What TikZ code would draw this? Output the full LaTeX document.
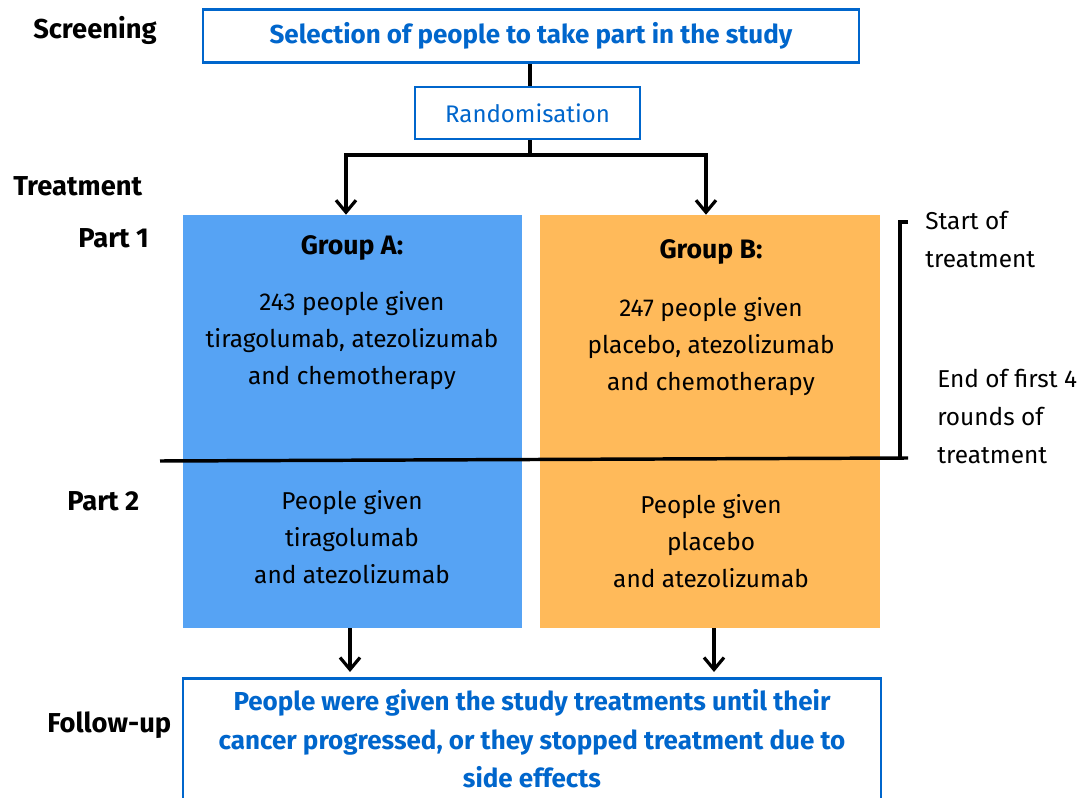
\documentclass[tikz,border=0pt]{standalone}
\usepackage{fontspec}
\setmainfont{Fira Sans}
\usetikzlibrary{arrows.meta}
\definecolor{rblue}{HTML}{0066CC}
\definecolor{fillA}{HTML}{56A3F4}
\definecolor{fillB}{HTML}{FFBA5A}
\begin{document}
\begin{tikzpicture}[x=0.75pt,y=-0.75pt,
  lbl/.style={font=\fontsize{20.5}{22}\selectfont\bfseries, anchor=west, inner sep=0pt},
  body/.style={font=\fontsize{18.3}{28}\selectfont, align=center, inner sep=0pt},
  side/.style={font=\fontsize{18.3}{28.5}\selectfont, align=left, anchor=north west, inner sep=0pt},
  bluebox/.style={draw=rblue, line width=2pt, fill=white, text=rblue, inner sep=0pt},
  conn/.style={line width=2.6pt, black},
  arr/.style={conn, -{Straight Barb[length=9pt,width=15pt,line width=2.4pt]}},
  grp/.style={inner sep=0pt, draw=none}]
\useasboundingbox (0,0) rectangle (1085,798);
% labels
\node[lbl] (scr) at (33,30) {Screening};
\node[lbl] (trt) at (13,186) {Treatment};
\node[lbl] (p1) at (78,238) {Part 1};
\node[lbl] (p2) at (67,501) {Part 2};
\node[lbl] (fu) at (47,725) {Follow-up};
% top boxes
\node[bluebox, minimum width=656*0.75pt, minimum height=53*0.75pt, font=\fontsize{19.5}{20}\selectfont\bfseries] (sel) at (531,36) {Selection of people to take part in the study};
\node[bluebox, minimum width=225*0.75pt, minimum height=52*0.75pt, font=\fontsize{18}{20}\selectfont] (rand) at (527.5,113) {Randomisation};
% group rectangles
\node[grp, fill=fillA, minimum width=339*0.75pt, minimum height=413*0.75pt] (ga) at (352.5,421.5) {};
\node[grp, fill=fillB, minimum width=340*0.75pt, minimum height=413*0.75pt] (gb) at (710,421.5) {};
% group texts
\node[font=\fontsize{20}{22}\selectfont\bfseries, inner sep=0pt] (gat) at (352,248) {Group A:};
\node[body, anchor=north] (gad) at (352,291) {243 people given\\tiragolumab, atezolizumab\\and chemotherapy};
\node[font=\fontsize{20}{22}\selectfont\bfseries, inner sep=0pt] (gbt) at (711,252) {Group B:};
\node[body, anchor=north] (gbd) at (711,297) {247 people given\\placebo, atezolizumab\\and chemotherapy};
\node[body, anchor=north] (ga2) at (352,490) {People given\\tiragolumab\\and atezolizumab};
\node[body, anchor=north] (gb2) at (711,494) {People given\\placebo\\and atezolizumab};
% bottom box
\node[bluebox, minimum width=698*0.75pt, minimum height=122*0.75pt, anchor=north] (fol) at (532,677) {};
\node[font=\fontsize{19.5}{29}\selectfont\bfseries, text=rblue, align=center, inner sep=0pt, anchor=north] (folt) at (532,689) {People were given the study treatments until their\\cancer progressed, or they stopped treatment due to\\side effects};
% side notes
\node[side] (st) at (925,211) {Start of\\treatment};
\node[side] (en) at (937,369) {End of first 4\\rounds of\\treatment};
% connectors
\coordinate (split) at (530,155);
\draw[conn] (sel.south -| split) -- (rand.north -| split);
\draw[conn] (rand.south -| split) -- (split);
\draw[arr] (split) -| (ga.north -| 346,0);
\draw[arr] (split) -| (gb.north -| 706,0);
\draw[arr] (ga.south -| 350,0) -- (350,672);
\draw[arr] (gb.south -| 714,0) -- (714,672);
% divider and bracket
\coordinate (dl) at (160,461);
\coordinate (dr) at (908,458);
\coordinate (bt) at (900,222);
\draw[conn] (dl) -- (dr);
\draw[conn] (908,222) -- (bt) -- (900,458);
\end{tikzpicture}
\end{document}
